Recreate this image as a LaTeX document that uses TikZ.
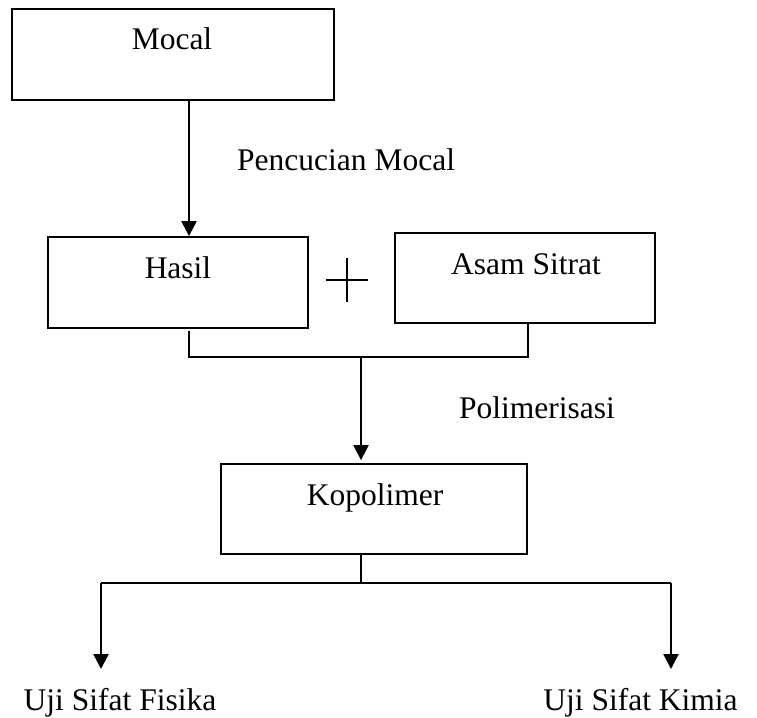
\documentclass[tikz,border=0pt]{standalone}
\usepackage{fontspec}
\setmainfont{Liberation Serif}
\usetikzlibrary{arrows.meta}
\begin{document}
\begin{tikzpicture}[x=1pt,y=-1pt,
  box/.style={draw,line width=1.8pt,inner sep=0pt,rectangle},
  txt/.style={font=\fontsize{31.5}{38}\selectfont,inner sep=0pt,anchor=base},
  arr/.style={line width=2.3pt,-{Triangle[width=15pt,length=15pt]}},
  ln/.style={line width=1.5pt}]
\useasboundingbox (0,0) rectangle (757,717);
% boxes
\node[box,minimum width=322pt,minimum height=91pt] (mocal) at (173,54.5) {};
\node[box,minimum width=260pt,minimum height=91pt] (hasil) at (178,282.5) {};
\node[box,minimum width=260pt,minimum height=90pt] (asam) at (525,278) {};
\node[box,minimum width=306pt,minimum height=90pt] (kop) at (374,509) {};
% texts
\node[txt] (mocalt) at (172,50) {Mocal};
\node[txt] (hasilt) at (178,278) {Hasil};
\node[txt] (asamt) at (526,274) {Asam Sitrat};
\node[txt] (kopt) at (375,505) {Kopolimer};
\node[txt,anchor=base west] (pencuc) at (237,170) {Pencucian Mocal};
\node[txt,anchor=base west] (polim) at (459,418) {Polimerisasi};
\node[txt] (fis) at (120,710) {Uji Sifat Fisika};
\node[txt] (kim) at (640.5,710) {Uji Sifat Kimia};
% helper coordinates
\coordinate (xa) at (189,0);
\coordinate (xm) at (361,0);
\coordinate (xb) at (528,0);
\coordinate (xl) at (101,0);
\coordinate (xr) at (671,0);
\coordinate (yb) at (0,357);
\coordinate (yk) at (0,583);
\coordinate (yt) at (0,669);
% connectors
\draw[arr] (mocal.south -| xa) -- (hasil.north -| xa);
\draw[ln] ([yshift=-2pt]hasil.south -| xa) -- (yb -| xa) -- (yb -| xb) -- (asam.south -| xb);
\draw[arr] (yb -| xm) -- ([yshift=3pt]kop.north -| xm);
\draw[ln] (kop.south -| xm) -- (yk -| xm);
\draw[ln] (yk -| xl) -- (yk -| xr);
\draw[arr] (yk -| xl) -- (yt -| xl);
\draw[arr] (yk -| xr) -- (yt -| xr);
% plus sign
\draw[line width=1.3pt] (326,280) -- (368,280) (347,258) -- (347,302);
\end{tikzpicture}
\end{document}
